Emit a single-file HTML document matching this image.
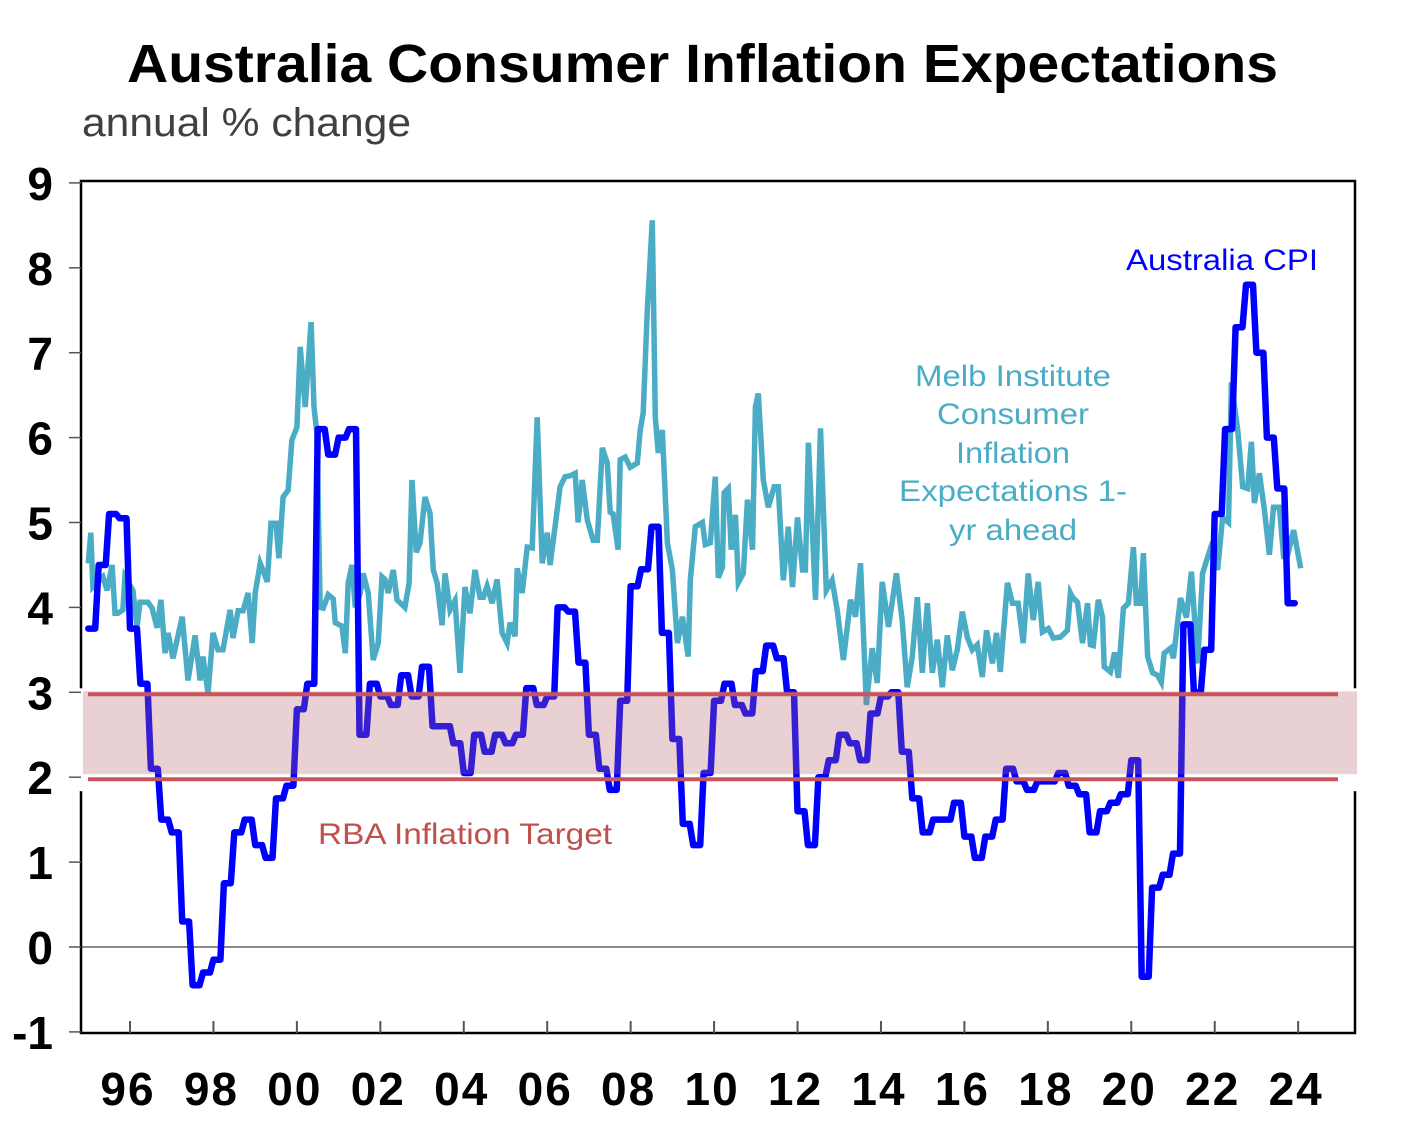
<!DOCTYPE html>
<html><head><meta charset="utf-8">
<style>
html,body{margin:0;padding:0;background:#fff;}
svg{display:block;font-family:"Liberation Sans",Arial,sans-serif;}
</style></head>
<body>
<svg id="chart" width="1408" height="1136" viewBox="0 0 1408 1136" xmlns="http://www.w3.org/2000/svg">
<text x="127" y="82" textLength="1151" lengthAdjust="spacingAndGlyphs" font-size="54" font-weight="bold" fill="#000">Australia Consumer Inflation Expectations</text>
<text x="82" y="136" textLength="329" lengthAdjust="spacingAndGlyphs" font-size="40" fill="#404040">annual % change</text>
<g id="plot"></g>
<text x="1126" y="270" textLength="192" lengthAdjust="spacingAndGlyphs" font-size="30" fill="#0000FF">Australia CPI</text>
<g font-size="30" fill="#4BACC6">
<text x="915" y="386" textLength="196" lengthAdjust="spacingAndGlyphs">Melb Institute</text>
<text x="937" y="424" textLength="152" lengthAdjust="spacingAndGlyphs">Consumer</text>
<text x="956" y="463" textLength="114" lengthAdjust="spacingAndGlyphs">Inflation</text>
<text x="899" y="501" textLength="228" lengthAdjust="spacingAndGlyphs">Expectations 1-</text>
<text x="949" y="540" textLength="128" lengthAdjust="spacingAndGlyphs">yr ahead</text>
</g>
<text x="318" y="844" textLength="294" lengthAdjust="spacingAndGlyphs" font-size="30" fill="#C0504D">RBA Inflation Target</text>
</svg>
<script>
const yTicks = [9,8,7,6,5,4,3,2,1,0,-1];
const yTickLabels = ["9","8","7","6","5","4","3","2","1","0","-1"];
const xTicks = [1996,1998,2000,2002,2004,2006,2008,2010,2012,2014,2016,2018,2020,2022,2024];
const xTickLabels = ["96","98","00","02","04","06","08","10","12","14","16","18","20","22","24"];
const targetLow = 2;
const targetHigh = 3;
// Australia CPI, year-ended %, quarterly from 1995 Q1
const cpiStart = 1995;
const cpiValues = [3.75,4.5,5.1,5.05, 3.75,3.1,2.1,1.5, 1.35,0.3,-0.45,-0.3, -0.15,0.75,1.35,1.5, 1.2,1.05,1.75,1.9, 2.8,3.1,6.1,5.8, 6.0,6.1,2.5,3.1, 2.95,2.85,3.2,2.95, 3.3,2.6,2.6,2.4, 2.05,2.5,2.3,2.5, 2.4,2.5,3.05,2.85, 2.95,4.0,3.95,3.35, 2.5,2.1,1.85,2.9, 4.25,4.45,4.95,3.7, 2.45,1.45,1.2,2.05, 2.9,3.1,2.85,2.75, 3.25,3.55,3.4,3.0, 1.6,1.2,2.0,2.2, 2.5,2.4,2.2,2.75, 2.95,3.0,2.3,1.75, 1.35,1.5,1.5,1.7, 1.3,1.05,1.3,1.5, 2.1,1.95,1.85,1.95, 1.95,2.05,1.9,1.8, 1.35,1.6,1.7,1.8, 2.2,-0.35,0.7,0.85, 1.1,3.8,3.0,3.5, 5.1,6.1,7.3,7.8, 7.0,6.0,5.4,4.05];
// Melbourne Institute 1-yr ahead expectations: dates (decimal years) and values
const expDates = [1995.00,1995.06,1995.11,1995.35,1995.45,1995.57,1995.64,1995.71,1995.83,1995.88,1996.07,1996.17,1996.24,1996.43,1996.53,1996.65,1996.74,1996.84,1996.91,1997.03,1997.25,1997.39,1997.56,1997.68,1997.75,1997.87,1997.99,1998.11,1998.23,1998.40,1998.47,1998.59,1998.71,1998.83,1998.93,1999.00,1999.12,1999.29,1999.38,1999.50,1999.57,1999.67,1999.79,1999.88,2000.00,2000.08,2000.20,2000.34,2000.41,2000.48,2000.56,2000.63,2000.75,2000.87,2000.92,2001.08,2001.16,2001.23,2001.32,2001.40,2001.52,2001.59,2001.71,2001.83,2001.95,2002.04,2002.11,2002.19,2002.31,2002.40,2002.59,2002.69,2002.76,2002.86,2002.95,2003.07,2003.19,2003.27,2003.36,2003.48,2003.55,2003.67,2003.79,2003.91,2004.03,2004.15,2004.27,2004.39,2004.47,2004.56,2004.68,2004.80,2004.92,2005.04,2005.11,2005.23,2005.28,2005.40,2005.52,2005.64,2005.76,2005.88,2006.00,2006.07,2006.17,2006.31,2006.43,2006.55,2006.67,2006.74,2006.84,2006.96,2007.10,2007.20,2007.32,2007.44,2007.51,2007.58,2007.70,2007.75,2007.87,2007.99,2008.16,2008.23,2008.30,2008.40,2008.52,2008.59,2008.66,2008.76,2008.88,2009.00,2009.12,2009.24,2009.38,2009.43,2009.55,2009.72,2009.79,2009.91,2010.03,2010.10,2010.20,2010.24,2010.34,2010.41,2010.51,2010.58,2010.70,2010.80,2010.92,2010.99,2011.06,2011.18,2011.30,2011.44,2011.54,2011.66,2011.78,2011.88,2012.00,2012.12,2012.19,2012.26,2012.43,2012.55,2012.69,2012.83,2012.95,2013.10,2013.27,2013.39,2013.51,2013.65,2013.79,2013.91,2014.03,2014.18,2014.37,2014.51,2014.63,2014.75,2014.87,2014.99,2015.11,2015.23,2015.35,2015.47,2015.59,2015.71,2015.83,2015.95,2016.07,2016.19,2016.31,2016.43,2016.53,2016.67,2016.77,2016.86,2017.03,2017.15,2017.29,2017.41,2017.53,2017.65,2017.77,2017.87,2018.01,2018.13,2018.30,2018.47,2018.54,2018.59,2018.71,2018.83,2018.95,2019.02,2019.09,2019.21,2019.31,2019.35,2019.50,2019.60,2019.69,2019.81,2019.93,2020.05,2020.12,2020.22,2020.29,2020.39,2020.51,2020.63,2020.72,2020.79,2020.94,2021.01,2021.18,2021.32,2021.44,2021.59,2021.71,2021.83,2021.95,2022.07,2022.19,2022.33,2022.40,2022.55,2022.67,2022.79,2022.88,2022.95,2023.07,2023.19,2023.31,2023.41,2023.55,2023.65,2023.74,2023.89,2024.06];
const expValues = [4.52,4.88,4.24,4.36,4.2,4.5,3.93,3.93,3.97,4.36,4.2,3.77,4.06,4.06,3.99,3.76,4.09,3.46,3.7,3.4,3.89,3.14,3.67,3.14,3.42,2.99,3.7,3.5,3.5,3.97,3.64,3.96,3.96,4.17,3.58,4.17,4.52,4.3,4.99,4.99,4.58,5.3,5.38,5.97,6.12,7.07,6.36,7.36,6.36,6.05,4.0,3.99,4.15,4.1,3.82,3.78,3.46,4.29,4.5,4.0,4.17,4.4,4.17,3.38,3.58,4.36,4.33,4.17,4.44,4.09,4.0,4.29,5.5,4.65,4.76,5.3,5.11,4.44,4.29,3.79,4.4,3.97,4.08,3.23,4.24,3.93,4.44,4.12,4.12,4.25,4.05,4.33,3.7,3.58,3.82,3.66,4.46,4.17,4.71,4.7,6.24,4.52,4.88,4.5,4.88,5.42,5.54,5.55,5.58,5.0,5.5,5.03,4.79,4.79,5.88,5.7,5.12,5.1,4.68,5.74,5.77,5.65,5.7,6.09,6.29,7.5,8.56,6.24,5.82,6.09,4.76,4.44,3.58,3.89,3.42,4.32,4.95,5.0,4.74,4.76,5.54,4.35,4.47,5.35,5.4,4.68,5.09,4.29,4.4,5.27,4.68,6.36,6.52,5.5,5.18,5.42,5.42,4.32,4.95,4.24,5.06,4.44,4.44,5.94,4.09,6.11,4.2,4.32,3.97,3.38,4.09,3.89,4.52,2.85,3.52,3.11,4.3,3.77,4.4,3.85,3.06,3.42,4.12,3.23,4.05,3.23,3.62,3.06,3.67,3.26,3.5,3.95,3.65,3.5,3.56,3.18,3.73,3.34,3.7,3.24,4.29,4.05,4.05,3.58,4.4,3.85,4.3,3.71,3.75,3.64,3.65,3.73,4.17,4.12,4.06,3.58,4.05,3.56,3.55,4.09,3.89,3.3,3.24,3.47,3.17,3.99,4.05,4.71,4.05,4.05,4.64,3.42,3.23,3.2,3.12,3.46,3.52,3.4,4.11,3.88,4.42,3.34,4.4,4.59,4.77,4.44,5.06,5.0,6.65,6.09,5.42,5.4,5.95,5.23,5.58,5.15,4.62,5.18,5.18,4.6,4.6,4.91,4.46];

const NS = "http://www.w3.org/2000/svg";
const L = 81, R = 1355, T = 181, B = 1033;
function xScale(t){ return 130 + (t - 1996) * 41.72; }
function yScale(v){ return 947 - v * 84.9; }
const plot = document.getElementById('plot');
function mk(tag, attrs, parent){ const e = document.createElementNS(NS, tag); for (const k in attrs) e.setAttribute(k, attrs[k]); (parent||plot).appendChild(e); return e; }

const zl = mk('line',{x1:L,x2:R,y1:yScale(0),y2:yScale(0),stroke:'#8c8c8c','stroke-width':2});



let d = '';
expDates.forEach((t,i)=>{ d += (i?'L':'M') + xScale(t).toFixed(1) + ',' + yScale(expValues[i]).toFixed(1); });
const ep = mk('path',{d:d,fill:'none',stroke:'#4BACC6','stroke-width':5.5,'stroke-linejoin':'miter'});



let dc = '';
cpiValues.forEach((v,i)=>{
  const t0 = cpiStart + i/4, t1 = t0 + 2/12;
  dc += (i?'L':'M') + xScale(t0).toFixed(1) + ',' + yScale(v).toFixed(1) + 'L' + xScale(t1).toFixed(1) + ',' + yScale(v).toFixed(1);
});
const cp = mk('path',{d:dc,fill:'none',stroke:'#0000FF','stroke-width':6.5,'stroke-linejoin':'round','stroke-linecap':'round'});



const fr = mk('rect',{x:L,y:T,width:R-L,height:B-T,fill:'none',stroke:'#000','stroke-width':2.5});



const wg1 = mk('rect',{x:L-3,y:yScale(targetHigh)-4,width:6,height:yScale(targetLow)-yScale(targetHigh)+18,fill:'#fff'});


const wg2 = mk('rect',{x:R-3,y:yScale(targetHigh)-4,width:6,height:yScale(targetLow)-yScale(targetHigh)+18,fill:'#fff'});



const band = mk('rect',{x:L+2,y:yScale(targetHigh)-1,width:R-L,height:yScale(targetLow)-yScale(targetHigh)-2,fill:'rgb(180,100,110)','fill-opacity':0.3});


[targetHigh,targetLow].forEach((v,i)=>{
  const ln = mk('line',{x1:88,x2:1338,y1:yScale(v)+2,y2:yScale(v)+2,stroke:'#C9555C','stroke-width':4});
  
  
});

yTicks.forEach((v,i)=>{
  const tk = mk('line',{x1:69,x2:L,y1:yScale(v),y2:yScale(v),stroke:'#555','stroke-width':1.5});
  
  
  const tx = mk('text',{x:53,y:yScale(v)+17,'text-anchor':'end','font-size':46,'font-weight':'bold',fill:'#000'});
  tx.textContent = yTickLabels[i];
  
  
});
xTicks.forEach((t,i)=>{
  const tk = mk('line',{x1:xScale(t),x2:xScale(t),y1:B-12,y2:B,stroke:'#555','stroke-width':2});
  
  
  const tx = mk('text',{x:xScale(t)-2,y:1105,'text-anchor':'middle','font-size':46,'font-weight':'bold',fill:'#000','letter-spacing':2});
  tx.textContent = xTickLabels[i];
  
  
});
</script>
</body></html>
